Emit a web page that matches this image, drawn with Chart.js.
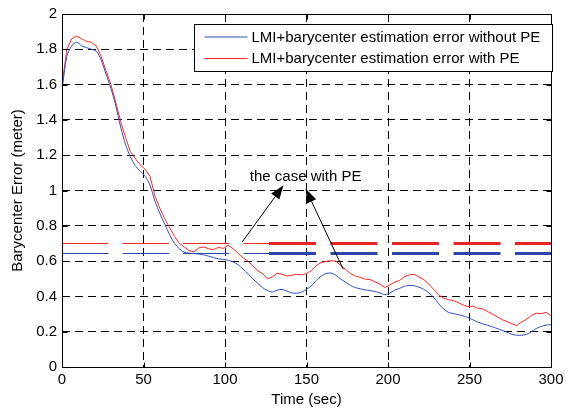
<!DOCTYPE html>
<html>
<head>
<meta charset="utf-8">
<title>Barycenter Error</title>
<script src="https://cdn.jsdelivr.net/npm/chart.js@4.4.0/dist/chart.umd.min.js"></script>
<style>
    html, body { margin: 0; padding: 0; background: #fff; }
    #wrap { width: 578px; height: 412px; }
</style>
</head>
<body>
<div id="wrap"><canvas id="barycenter-chart" width="578" height="412"></canvas></div>
<script>
// --- Data ---
const timeSec = [
    0, 3, 6, 9, 12, 15, 18, 21, 24, 27,
    30, 33, 36, 39, 42, 45, 48, 51, 54, 57,
    60, 63, 66, 69, 72, 75, 78, 81, 84, 87,
    90, 93, 96, 99, 102, 105, 108, 111, 114, 117,
    120, 123, 126, 129, 132, 135, 138, 141, 144, 147,
    150, 153, 156, 159, 162, 165, 168, 171, 174, 177,
    180, 183, 186, 189, 192, 195, 198, 201, 204, 207,
    210, 213, 216, 219, 222, 225, 228, 231, 234, 237,
    240, 243, 246, 249, 252, 255, 258, 261, 264, 267,
    270, 273, 276, 279, 282, 285, 288, 291, 294, 297,
    300
];

const errWithoutPE = [
    1.57, 1.76, 1.82, 1.84, 1.82, 1.81, 1.80, 1.79, 1.74, 1.66,
    1.58, 1.48, 1.36, 1.26, 1.19, 1.14, 1.11, 1.08, 1.03, 0.94,
    0.87, 0.81, 0.75, 0.70, 0.67, 0.65, 0.645, 0.643, 0.64, 0.635,
    0.628, 0.62, 0.613, 0.61, 0.605, 0.595, 0.58, 0.555, 0.53, 0.50,
    0.475, 0.45, 0.433, 0.425, 0.435, 0.44, 0.43, 0.42, 0.418, 0.425,
    0.44, 0.46, 0.49, 0.515, 0.53, 0.532, 0.52, 0.498, 0.48, 0.462,
    0.45, 0.443, 0.437, 0.433, 0.428, 0.42, 0.41, 0.418, 0.435, 0.445,
    0.457, 0.462, 0.46, 0.452, 0.44, 0.42, 0.395, 0.36, 0.33, 0.31,
    0.303, 0.297, 0.29, 0.28, 0.268, 0.255, 0.245, 0.237, 0.228, 0.218,
    0.208, 0.197, 0.185, 0.18, 0.18, 0.185, 0.20, 0.218, 0.23, 0.237,
    0.24
];

const errWithPE = [
    1.60, 1.80, 1.86, 1.875, 1.86, 1.845, 1.84, 1.82, 1.76, 1.68,
    1.60, 1.50, 1.39, 1.30, 1.22, 1.18, 1.145, 1.12, 1.08, 0.97,
    0.90, 0.84, 0.79, 0.74, 0.70, 0.68, 0.66, 0.652, 0.675, 0.68,
    0.67, 0.665, 0.678, 0.672, 0.69, 0.67, 0.645, 0.62, 0.60, 0.575,
    0.545, 0.53, 0.50, 0.51, 0.532, 0.525, 0.515, 0.52, 0.525, 0.522,
    0.53, 0.545, 0.575, 0.592, 0.598, 0.602, 0.60, 0.575, 0.553, 0.53,
    0.515, 0.508, 0.498, 0.495, 0.483, 0.47, 0.45, 0.465, 0.48, 0.49,
    0.51, 0.522, 0.525, 0.51, 0.495, 0.47, 0.44, 0.41, 0.39, 0.382,
    0.377, 0.365, 0.352, 0.342, 0.345, 0.333, 0.33, 0.315, 0.30, 0.285,
    0.268, 0.258, 0.245, 0.235, 0.255, 0.27, 0.292, 0.305, 0.302, 0.31,
    0.29
];

// dashed reference levels (red = with PE, blue = without PE), thin up to refSplit, thick after
const refLevelWithPE = 0.70;
const refLevelWithoutPE = 0.643;
const refSplit = 127;

// annotation: text position and the two arrows [tailX, tailY, tipX, tipY] in data units
const noteText = 'the case with PE';
const notePos = [149.5, 1.08];
const noteArrows = [
    [110.5, 0.708, 135.9, 1.03],
    [172.5, 0.554, 149.5, 1.01]
];

const FONT = "'Liberation Sans', Arial, sans-serif";
const FSIZE = 15;
const BLUE = '#2f4fc0';
const RED = '#ff2626';

const toPoints = (xs, ys) => xs.map((t, i) => ({ x: t, y: ys[i] }));
const flatLine = (level, x0, x1) => [{ x: x0, y: level }, { x: x1, y: level }];

// --- Plugins ---
// Box around the axes with inward tick marks (matlab look)
const matlabFrame = {
    id: 'matlabFrame',
    afterDatasetsDraw(chart) {
        const { ctx, chartArea: a, scales: { x, y } } = chart;
        const L = Math.round(a.left) + 0.5, R = Math.round(a.right) + 0.5;
        const T = Math.round(a.top) + 0.5, B = Math.round(a.bottom) + 0.5;
        ctx.save();
        ctx.strokeStyle = '#000';
        ctx.lineWidth = 1;
        ctx.beginPath();
        x.ticks.forEach(tk => {
            const px = Math.round(x.getPixelForValue(tk.value)) + 0.5;
            ctx.moveTo(px, B); ctx.lineTo(px, B - 5);
            ctx.moveTo(px, T); ctx.lineTo(px, T + 5);
        });
        y.ticks.forEach(tk => {
            const py = Math.round(y.getPixelForValue(tk.value)) + 0.5;
            ctx.moveTo(L, py); ctx.lineTo(L + 5, py);
            ctx.moveTo(R, py); ctx.lineTo(R - 5, py);
        });
        ctx.stroke();
        ctx.strokeRect(L, T, R - L, B - T);
        ctx.restore();
    }
};

// Text with two arrows pointing at it
const noteArrowsPlugin = {
    id: 'noteArrows',
    afterDatasetsDraw(chart) {
        const { ctx, scales: { x, y } } = chart;
        ctx.save();
        ctx.fillStyle = '#000';
        ctx.strokeStyle = '#000';
        ctx.lineWidth = 1;
        ctx.font = `${FSIZE}px ${FONT}`;
        ctx.textAlign = 'center';
        ctx.textBaseline = 'middle';
        ctx.fillText(noteText, x.getPixelForValue(notePos[0]), y.getPixelForValue(notePos[1]));

        noteArrows.forEach(([tx, ty, hx, hy]) => {
            const x0 = x.getPixelForValue(tx), y0 = y.getPixelForValue(ty);
            const x1 = x.getPixelForValue(hx), y1 = y.getPixelForValue(hy);
            const ang = Math.atan2(y1 - y0, x1 - x0);
            const headLen = 14, headHalf = 5;
            const bx = x1 - headLen * Math.cos(ang), by = y1 - headLen * Math.sin(ang);
            ctx.beginPath();
            ctx.moveTo(x0, y0);
            ctx.lineTo(bx, by);
            ctx.stroke();
            ctx.beginPath();
            ctx.moveTo(x1, y1);
            ctx.lineTo(bx + headHalf * Math.sin(ang), by - headHalf * Math.cos(ang));
            ctx.lineTo(bx - headHalf * Math.sin(ang), by + headHalf * Math.cos(ang));
            ctx.closePath();
            ctx.fill();
        });
        ctx.restore();
    }
};

// Boxed legend inside the axes, top right
const boxedLegend = {
    id: 'boxedLegend',
    afterDraw(chart) {
        const { ctx, chartArea: a } = chart;
        const items = chart.data.datasets.filter(ds => ds.label);
        const w = 358, h = 47;
        const left = Math.round(a.right) + 1 - w + 0.5, top = Math.round(a.top) + 10.5;
        ctx.save();
        ctx.fillStyle = '#fff';
        ctx.fillRect(left, top, w, h);
        ctx.strokeStyle = '#000';
        ctx.lineWidth = 1;
        ctx.strokeRect(left, top, w, h);
        ctx.font = `${FSIZE}px ${FONT}`;
        ctx.textBaseline = 'middle';
        ctx.textAlign = 'left';
        items.forEach((ds, i) => {
            const ly = top + 12.5 + i * 21.5;
            ctx.strokeStyle = ds.borderColor;
            ctx.beginPath();
            ctx.moveTo(left + 10, ly);
            ctx.lineTo(left + 53, ly);
            ctx.stroke();
            ctx.fillStyle = '#000';
            ctx.fillText(ds.label, left + 57, ly + 0.5);
        });
        ctx.restore();
    }
};

// --- Chart ---
document.addEventListener('DOMContentLoaded', () => {
    const ctx = document.getElementById('barycenter-chart').getContext('2d');

    const gridColor = c => (c.index === 0 || c.index === c.chart.scales[c.scale.id].ticks.length - 1) ? 'rgba(0,0,0,0)' : '#000';
    const tickFont = { family: FONT, size: FSIZE };

    new Chart(ctx, {
        type: 'line',
        data: {
            datasets: [
                {
                    label: 'LMI+barycenter estimation error without PE',
                    data: toPoints(timeSec, errWithoutPE),
                    borderColor: BLUE,
                    borderWidth: 1,
                    pointRadius: 0,
                    tension: 0.3
                },
                {
                    label: 'LMI+barycenter estimation error with PE',
                    data: toPoints(timeSec, errWithPE),
                    borderColor: RED,
                    borderWidth: 1,
                    pointRadius: 0,
                    tension: 0
                },
                {
                    data: flatLine(refLevelWithPE, 0, refSplit),
                    borderColor: '#e82424', borderWidth: 1, borderDash: [46.5, 14], pointRadius: 0
                },
                {
                    data: flatLine(refLevelWithoutPE, 0, refSplit),
                    borderColor: '#2a46a8', borderWidth: 1, borderDash: [46.5, 14], pointRadius: 0
                },
                {
                    data: flatLine(refLevelWithPE, refSplit, 300),
                    borderColor: '#e82424', borderWidth: 3, borderDash: [47, 14.5], pointRadius: 0
                },
                {
                    data: flatLine(refLevelWithoutPE, refSplit, 300),
                    borderColor: '#2a46a8', borderWidth: 3, borderDash: [47, 14.5], pointRadius: 0
                }
            ]
        },
        options: {
            responsive: false,
            animation: false,
            layout: { padding: { left: 0, right: 27, top: 8, bottom: 0 } },
            plugins: {
                legend: { display: false },
                tooltip: { enabled: false }
            },
            scales: {
                x: {
                    type: 'linear',
                    min: 0,
                    max: 300,
                    ticks: { stepSize: 50, color: '#000', font: tickFont, padding: 4, maxRotation: 0 },
                    grid: { color: gridColor, lineWidth: 1, drawTicks: false },
                    border: { display: false, dash: [8, 5] },
                    title: { display: true, text: 'Time (sec)', color: '#000', font: tickFont, padding: { top: 0, bottom: 3 } },
                    afterFit: s => { s.height = 45; }
                },
                y: {
                    min: 0,
                    max: 2,
                    ticks: {
                        stepSize: 0.2, color: '#000', font: tickFont, padding: 5,
                        callback: v => String(Math.round(v * 10) / 10)
                    },
                    grid: { color: gridColor, lineWidth: 1, drawTicks: false },
                    border: { display: false, dash: [8, 5] },
                    title: { display: true, text: 'Barycenter Error (meter)', color: '#000', font: tickFont, padding: { top: 9, bottom: 0 } },
                    afterFit: s => { s.width = 62; }
                }
            }
        },
        plugins: [matlabFrame, noteArrowsPlugin, boxedLegend]
    });
});
</script>
</body>
</html>
